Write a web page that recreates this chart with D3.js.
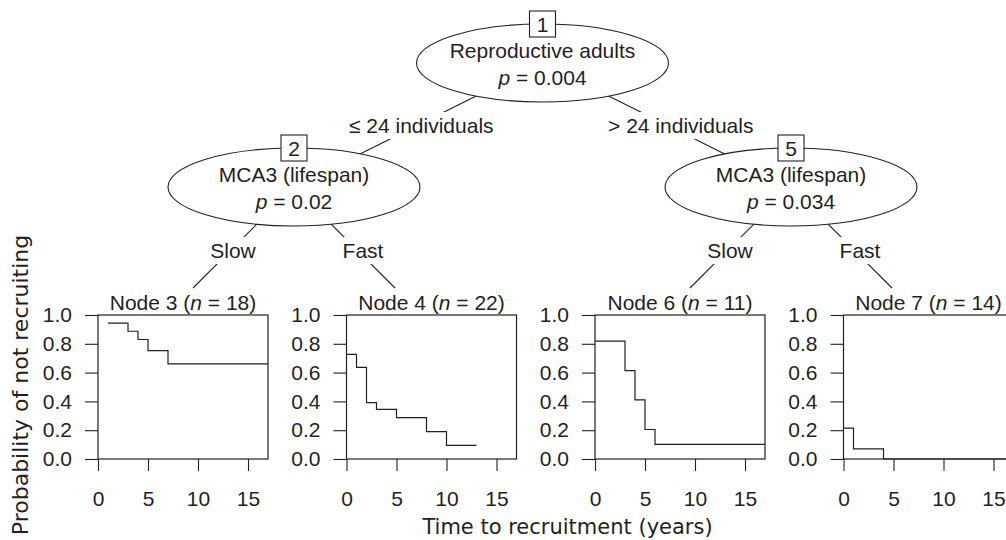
<!DOCTYPE html>
<html>
<head>
<meta charset="utf-8">
<script src="https://cdn.jsdelivr.net/npm/d3@7"></script>
<style>
  body { margin: 0; background: #fff; }
  text { fill: #231f20; }
</style>
</head>
<body>
<script>
const width = 1006;
const height = 540;
const ink = "#231f20";
const nodeFont = "'Liberation Sans', Arial, sans-serif";
const titleFont = "'DejaVu Sans', Verdana, sans-serif";

// inner nodes of the tree
var innerIds = [1, 2, 5];
var innerVars = ["Reproductive adults", "MCA3 (lifespan)", "MCA3 (lifespan)"];
var innerP = ["0.004", "0.02", "0.034"];

// edge labels: node 1 -> 2, 1 -> 5, then 2 -> 3, 2 -> 4, 5 -> 6, 5 -> 7
var splitLabels = ["\u2264 24 individuals", "> 24 individuals"];
var branchLabels = ["Slow", "Fast", "Slow", "Fast"];

// terminal nodes
var termIds = [3, 4, 6, 7];
var termN = [18, 22, 11, 14];

// Kaplan-Meier steps
var node3Times = [1, 3, 4, 5, 7, 17];
var node3Surv  = [0.944, 0.887, 0.83, 0.752, 0.66, 0.66];
var node4Times = [0, 1, 2, 3, 5, 8, 10, 13];
var node4Surv  = [0.727, 0.636, 0.391, 0.345, 0.287, 0.19, 0.095, 0.095];
var node6Times = [0, 3, 4, 5, 6, 17];
var node6Surv  = [0.818, 0.614, 0.41, 0.205, 0.102, 0.102];
var node7Times = [0, 1, 4, 17];
var node7Surv  = [0.214, 0.071, 0, 0];

var xTicks = [0, 5, 10, 15];
var yTicks = [0, 0.2, 0.4, 0.6, 0.8, 1.0];

var curves = [
    [node3Times, node3Surv],
    [node4Times, node4Surv],
    [node6Times, node6Surv],
    [node7Times, node7Surv]
];

// layout
const panel = {left: 98, step: 248.5, top: 315, w: 170, h: 144};
const innerPos = [[542.5, 63], [294, 187], [791, 187]];   // ellipse centres
const ell = {rx: 126, ry: 39};
const termLineY = 288;

var xScale = d3.scaleLinear().domain([0, 17]).range([0, panel.w]);
var yScale = d3.scaleLinear().domain([0, 1]).range([panel.h, 0]);

var svg = d3.select("body").append("svg")
    .attr("width", width)
    .attr("height", height)
    .style("display", "block");

var edgeLayer = svg.append("g");
var labelLayer = svg.append("g");
var nodeLayer = svg.append("g");

function addLabel(text, cx, cy) {
    var g = labelLayer.append("g");
    var rect = g.append("rect").attr("fill", "#fff");
    var t = g.append("text")
        .attr("x", cx)
        .attr("y", cy + 7.5)
        .attr("text-anchor", "middle")
        .style("font-family", nodeFont)
        .style("font-size", "21px")
        .text(text);
    var bb = t.node().getBBox();
    rect.attr("x", bb.x - 3).attr("width", bb.width + 6)
        .attr("y", cy - 13.5).attr("height", 27);
}

function drawEdges() {
    // root to level two
    [1, 2].forEach(function(k, i) {
        var p = innerPos[0], c = innerPos[k];
        edgeLayer.append("line")
            .attr("x1", p[0]).attr("y1", p[1])
            .attr("x2", c[0]).attr("y2", c[1])
            .attr("stroke", ink).attr("stroke-width", 1.1);
        var mx = (p[0] + c[0]) / 2, my = (p[1] + c[1]) / 2 + 0.5;
        addLabel(splitLabels[i], mx + (i == 0 ? 3 : 14), my);
    });

    // level two to the terminal panels (drawn at 45 degrees)
    [1, 2].forEach(function(k, i) {
        var p = innerPos[k];
        [-1, 1].forEach(function(s, j) {
            var d = termLineY - p[1];
            edgeLayer.append("line")
                .attr("x1", p[0]).attr("y1", p[1])
                .attr("x2", p[0] + s * d).attr("y2", termLineY)
                .attr("stroke", ink).attr("stroke-width", 1.1);
            addLabel(branchLabels[i * 2 + j], p[0] + (s < 0 ? -61 : 69), 250.5);
        });
    });
}

function drawInnerNodes() {
    innerIds.forEach(function(id, i) {
        var cx = innerPos[i][0], cy = innerPos[i][1];
        nodeLayer.append("ellipse")
            .attr("cx", cx).attr("cy", cy)
            .attr("rx", ell.rx).attr("ry", ell.ry)
            .attr("fill", "#fff").attr("stroke", ink).attr("stroke-width", 1.1);

        nodeLayer.append("text")
            .attr("x", cx).attr("y", cy - 5)
            .attr("text-anchor", "middle")
            .style("font-family", nodeFont).style("font-size", "21px")
            .text(innerVars[i]);

        var pt = nodeLayer.append("text")
            .attr("x", cx).attr("y", cy + 22)
            .attr("text-anchor", "middle")
            .style("font-family", nodeFont).style("font-size", "21px");
        pt.append("tspan").style("font-style", "italic").text("p");
        pt.append("tspan").text(" = " + innerP[i]);

        // id box on top of the ellipse
        var by = cy - ell.ry;
        nodeLayer.append("rect")
            .attr("x", cx - 13).attr("y", by - 13)
            .attr("width", 26).attr("height", 26)
            .attr("fill", "#fff").attr("stroke", ink).attr("stroke-width", 1.1);
        nodeLayer.append("text")
            .attr("x", cx).attr("y", by + 7.5)
            .attr("text-anchor", "middle")
            .style("font-family", nodeFont).style("font-size", "21px")
            .text(id);
    });
}

function drawPanels() {
    var line = d3.line()
        .curve(d3.curveStepAfter)
        .x(function(d) { return xScale(d[0]); })
        .y(function(d) { return yScale(d[1]); });

    termIds.forEach(function(id, i) {
        var g = svg.append("g")
            .attr("transform", "translate(" + (panel.left + i * panel.step) + "," + panel.top + ")");

        var yAxis = d3.axisLeft(yScale).tickValues(yTicks)
            .tickFormat(d3.format(".1f")).tickSize(13).tickPadding(13).tickSizeOuter(0);
        var xAxis = d3.axisBottom(xScale).tickValues(xTicks)
            .tickSize(12).tickPadding(20).tickSizeOuter(0);

        var ya = g.append("g").attr("class", "y axis").call(yAxis);
        var xa = g.append("g").attr("class", "x axis")
            .attr("transform", "translate(0," + panel.h + ")").call(xAxis);

        [ya, xa].forEach(function(a) {
            a.select(".domain").remove();
            a.selectAll("line").attr("stroke", ink).attr("stroke-width", 1.1);
            a.selectAll("text")
                .style("font-family", nodeFont).style("font-size", "21px")
                .attr("fill", ink);
        });

        g.append("rect")
            .attr("width", panel.w).attr("height", panel.h)
            .attr("fill", "none").attr("stroke", ink).attr("stroke-width", 1.2);

        var pts = curves[i][0].map(function(t, k) { return [t, curves[i][1][k]]; });
        g.append("path")
            .attr("d", line(pts))
            .attr("fill", "none").attr("stroke", ink).attr("stroke-width", 1.2);

        var title = g.append("text")
            .attr("x", panel.w / 2).attr("y", -5)
            .attr("text-anchor", "middle")
            .style("font-family", nodeFont).style("font-size", "21px");
        title.append("tspan").text("Node " + id + " (");
        title.append("tspan").style("font-style", "italic").text("n");
        title.append("tspan").text(" = " + termN[i] + ")");
    });
}

function drawTitles() {
    svg.append("text")
        .attr("transform", "translate(28," + 385 + ") rotate(-90)")
        .attr("text-anchor", "middle")
        .style("font-family", titleFont).style("font-size", "22px")
        .text("Probability of not recruiting");

    svg.append("text")
        .attr("x", 567.5).attr("y", 534)
        .attr("text-anchor", "middle")
        .style("font-family", titleFont).style("font-size", "21px")
        .text("Time to recruitment (years)");
}

drawEdges();
drawInnerNodes();
drawPanels();
drawTitles();
</script>
</body>
</html>
